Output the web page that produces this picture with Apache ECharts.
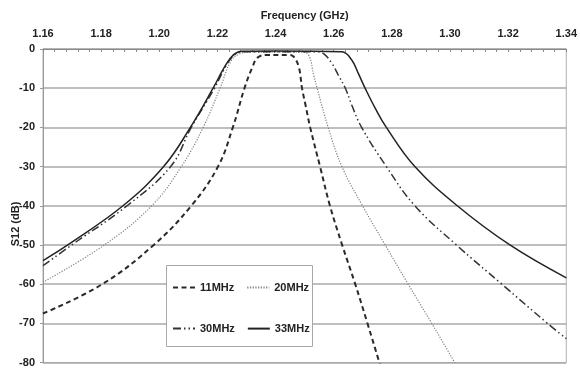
<!DOCTYPE html>
<html>
<head>
<meta charset="utf-8">
<script src="https://cdn.jsdelivr.net/npm/echarts@6/dist/echarts.min.js"></script>
<style>
html,body{margin:0;padding:0;background:#fff;}
#chart{width:580px;height:368px;}
</style>
</head>
<body>
<div id="chart"></div>
<script>
// Tick labels
var xTicks = [1.16, 1.18, 1.20, 1.22, 1.24, 1.26, 1.28, 1.30, 1.32, 1.34];
var yTicks = [0, -10, -20, -30, -40, -50, -60, -70, -80];
var seriesNames = ['11MHz', '20MHz', '30MHz', '33MHz'];

// 11MHz (dashed)
var f11 = [1.160, 1.1804, 1.1981, 1.2110, 1.2202, 1.2253, 1.2293, 1.2321, 1.2338, 1.2370, 1.2450, 1.2463, 1.2480, 1.2491, 1.2503, 1.2519, 1.2553, 1.2587, 1.2629, 1.2674, 1.2716, 1.2757, 1.2765];
var s11 = [-67.5, -60, -50, -40, -30, -20, -10, -4.5, -2.2, -1.5, -1.5, -2, -4.6, -10, -14.3, -20, -30, -40, -50, -60, -70, -80, -82];

// 20MHz (dotted)
var f20 = [1.160, 1.1811, 1.1974, 1.2076, 1.2151, 1.2209, 1.2247, 1.2275, 1.2310, 1.2490, 1.2514, 1.2531, 1.2543, 1.2581, 1.2628, 1.2699, 1.2777, 1.2856, 1.2937, 1.3016, 1.3030];
var s20 = [-59.5, -50, -40, -30, -20, -10, -3, -1.3, -0.8, -0.8, -1.6, -6.7, -10, -20, -30, -40, -50, -60, -70, -80, -82];

// 30MHz (dash-dot-dot)
var f30 = [1.160, 1.1699, 1.1889, 1.2039, 1.2110, 1.2190, 1.2228, 1.2258, 1.2290, 1.2540, 1.2565, 1.2594, 1.2616, 1.2640, 1.2662, 1.2696, 1.2781, 1.2879, 1.3022, 1.3178, 1.3335, 1.340];
var s30 = [-55.3, -50, -40, -30, -20, -10, -4.5, -1.5, -0.7, -0.7, -1.2, -3.7, -6.7, -10, -14.3, -20, -30, -40, -50, -60, -70, -73.9];

// 33MHz (solid)
var f33 = [1.160, 1.1685, 1.1875, 1.2015, 1.2107, 1.2185, 1.2225, 1.2255, 1.2285, 1.2400, 1.2628, 1.2662, 1.2685, 1.2708, 1.2742, 1.2781, 1.2879, 1.3025, 1.3206, 1.340];
var s33 = [-54, -50, -40, -30, -20, -10, -4.5, -1.5, -0.6, -0.5, -0.7, -2.8, -6.3, -10, -15, -20, -30, -40, -50, -58.4];

function pairs(f, s) { return f.map(function (v, i) { return [v, s[i]]; }); }

var FONT = 'Liberation Sans';
var chart = echarts.init(document.getElementById('chart'));

function mkSeries(name, f, s, style) {
  return {
    name: name, type: 'line', data: pairs(f, s),
    symbol: 'circle', showSymbol: false, smooth: 0.4, clip: true,
    lineStyle: style, itemStyle: { color: 'rgba(0,0,0,0)', borderWidth: 0 }, z: 2
  };
}

chart.setOption({
  animation: false,
  backgroundColor: '#fff',
  grid: { left: 43, right: 8, top: 49, bottom: 4, show: true, borderColor: '#b0b0b0', borderWidth: 1, containLabel: false },
  xAxis: {
    type: 'value', position: 'top',
    min: xTicks[0], max: xTicks[xTicks.length - 1], interval: 0.02,
    name: 'Frequency (GHz)', nameLocation: 'middle', nameGap: 28,
    nameTextStyle: { fontFamily: FONT, fontWeight: 'bold', fontSize: 11, color: '#222' },
    axisLine: { show: true, lineStyle: { color: '#888', width: 1 } },
    axisTick: { show: true, inside: true, length: 3, lineStyle: { color: '#888' } },
    minorTick: { show: true, splitNumber: 5, length: 3, lineStyle: { color: '#888' } },
    splitLine: { show: false },
    axisLabel: { margin: 10, fontFamily: FONT, fontWeight: 'bold', fontSize: 11, color: '#222',
      formatter: function (v) { return v.toFixed(2); } }
  },
  yAxis: {
    type: 'value', min: yTicks[yTicks.length - 1], max: yTicks[0], interval: 10,
    axisLine: { show: true, lineStyle: { color: '#999', width: 1 } },
    axisTick: { show: true, inside: false, length: 3, lineStyle: { color: '#999' } },
    splitLine: { show: true, lineStyle: { color: '#a8a8a8', width: 1.5 } },
    axisLabel: { margin: 8, fontFamily: FONT, fontWeight: 'bold', fontSize: 11, color: '#222' }
  },
  graphic: [
    { type: 'rect', z: 3, shape: { x: 166.5, y: 265.5, width: 146, height: 81 },
      style: { fill: '#fff', stroke: '#a8a8a8', lineWidth: 1 } },
    { type: 'text', z: 5, x: 16, y: 224, rotation: Math.PI / 2,
      style: { text: 'S12 (dB)', fontFamily: FONT, fontWeight: 'bold', fontSize: 11, fill: '#222',
        textAlign: 'center', textVerticalAlign: 'middle' } }
  ],
  legend: [
    { data: [seriesNames[0], seriesNames[1]], left: 172, top: 282, orient: 'horizontal', padding: 0,
      itemWidth: 22, itemHeight: 14, itemGap: 12, z: 6,
      textStyle: { fontFamily: FONT, fontWeight: 'bold', fontSize: 11, color: '#222' } },
    { data: [seriesNames[2], seriesNames[3]], left: 172, top: 323, orient: 'horizontal', padding: 0,
      itemWidth: 22, itemHeight: 14, itemGap: 12, z: 6,
      textStyle: { fontFamily: FONT, fontWeight: 'bold', fontSize: 11, color: '#222' } }
  ],
  series: [
    mkSeries(seriesNames[0], f11, s11, { color: '#2a2a2a', width: 2, type: [5, 3.5] }),
    mkSeries(seriesNames[1], f20, s20, { color: '#808080', width: 1.2, type: [1.2, 1.5] }),
    mkSeries(seriesNames[2], f30, s30, { color: '#333', width: 1.5, type: [8, 3, 1.5, 3, 1.5, 3] }),
    mkSeries(seriesNames[3], f33, s33, { color: '#222', width: 1.5, type: 'solid' })
  ]
});
</script>
</body>
</html>
